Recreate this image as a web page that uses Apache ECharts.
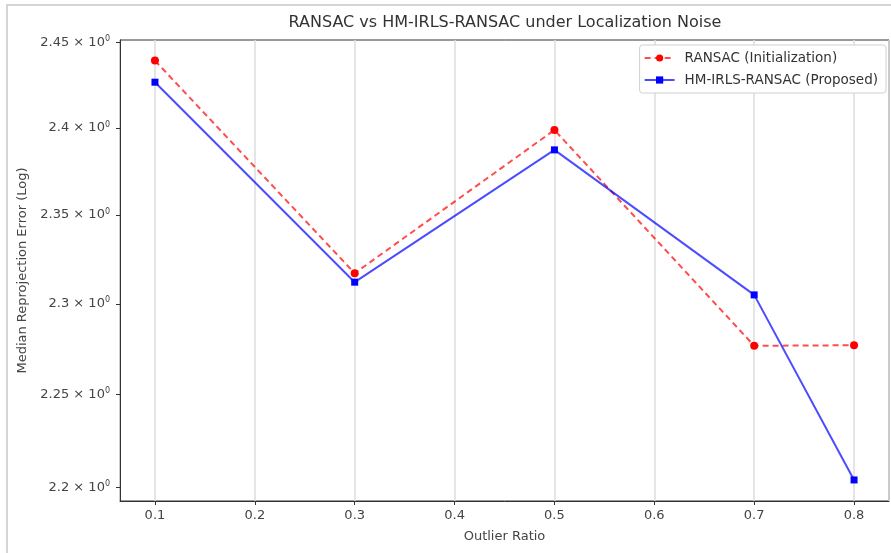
<!DOCTYPE html>
<html>
<head>
    <meta charset="utf-8">
    <title>RANSAC vs HM-IRLS-RANSAC</title>
    <script src="https://cdn.jsdelivr.net/npm/echarts@6.0.0/dist/echarts.min.js"></script>
    <style>
        html, body { margin: 0; padding: 0; background: #fff; }
    </style>
</head>
<body>
<div id="main" style="width: 891px; height: 553px;"></div>
<script type="text/javascript">
    // data
    var outlierRatio = [0.1, 0.3, 0.5, 0.7, 0.8];
    var ransacErr = [2.4394, 2.3171, 2.3988, 2.2768, 2.2771];
    var hmErr = [2.4267, 2.3121, 2.3873, 2.3050, 2.2041];
    var yTicks = [2.2, 2.25, 2.3, 2.35, 2.4, 2.45];
    var yMin = 2.1929, yMax = 2.4516;

    // log y axis: plot log10 of the values on a value axis
    function lg(v) { return Math.log10(v); }
    function pairs(xs, ys) {
        return xs.map(function (x, i) { return [x, lg(ys[i])]; });
    }

    var font = 'DejaVu Sans';
    var myChart = echarts.init(document.getElementById('main'));

    var option = {
        backgroundColor: '#fff',
        animation: false,
        textStyle: { fontFamily: font },
        title: {
            text: 'RANSAC vs HM-IRLS-RANSAC under Localization Noise',
            left: 505,
            textAlign: 'center',
            top: 15,
            padding: 0,
            textStyle: { fontFamily: font, fontSize: 16, fontWeight: 'normal', color: '#333' }
        },
        graphic: [{
            type: 'rect',
            shape: { x: 7, y: 5, width: 900, height: 600 },
            style: { fill: 'none', stroke: '#c8c8c8', lineWidth: 1.5 },
            silent: true
        }],
        legend: {
            orient: 'vertical',
            right: 5,
            top: 45,
            padding: [6, 8, 6, 4],
            itemGap: 8,
            itemWidth: 30,
            itemHeight: 9,
            backgroundColor: '#fff',
            borderColor: '#d0d0d0',
            borderWidth: 1,
            borderRadius: 3,
            textStyle: { fontFamily: font, fontSize: 13.5, color: '#333', padding: [0, 0, 0, 5] },
            data: ['RANSAC (Initialization)', 'HM-IRLS-RANSAC (Proposed)']
        },
        grid: {
            left: 120,
            right: 2,
            top: 40,
            bottom: 52,
            show: true,
            borderColor: '#333',
            borderWidth: 1
        },
        xAxis: {
            type: 'value',
            min: 0.065,
            max: 0.835,
            splitNumber: 8,
            name: 'Outlier Ratio',
            nameLocation: 'middle',
            nameGap: 29,
            nameTextStyle: { fontFamily: font, fontSize: 13, color: '#444' },
            axisLine: { show: true, onZero: false, lineStyle: { color: '#333' } },
            axisTick: { show: true, length: 4, lineStyle: { color: '#333' } },
            axisLabel: {
                showMinLabel: false,
                showMaxLabel: false,
                margin: 8,
                fontSize: 13,
                color: '#444',
                formatter: function (v) { return String(Math.round(v * 10) / 10); }
            },
            splitLine: { show: true, lineStyle: { color: '#dcdcdc', width: 1.5 } }
        },
        yAxis: {
            type: 'value',
            min: lg(yMin),
            max: lg(yMax),
            name: 'Median Reprojection Error (Log)',
            nameLocation: 'middle',
            nameGap: 88,
            nameTextStyle: { fontFamily: font, fontSize: 13, color: '#444' },
            axisLine: { show: true, onZero: false, lineStyle: { color: '#333' } },
            axisTick: { show: true, length: 4, customValues: yTicks.map(lg), lineStyle: { color: '#333' } },
            axisLabel: {
                customValues: yTicks.map(lg),
                margin: 10,
                color: '#444',
                formatter: function (v) {
                    var t = String(Math.round(Math.pow(10, v) * 100) / 100);
                    return '{m|' + t + ' \u00d7 10}{s|0}';
                },
                rich: {
                    m: { fontFamily: font, fontSize: 13, color: '#444' },
                    s: { fontFamily: font, fontSize: 8, color: '#444', verticalAlign: 'top', padding: [0, 0, 7, 0] }
                }
            },
            splitLine: { show: false }
        },
        series: [{
            name: 'RANSAC (Initialization)',
            type: 'line',
            data: pairs(outlierRatio, ransacErr),
            symbol: 'circle',
            symbolSize: 8,
            itemStyle: { color: '#ff0000' },
            lineStyle: { color: '#ff0000', width: 2, type: [6, 4], opacity: 0.7 },
            z: 3
        }, {
            name: 'HM-IRLS-RANSAC (Proposed)',
            type: 'line',
            data: pairs(outlierRatio, hmErr),
            symbol: 'rect',
            symbolSize: 7,
            itemStyle: { color: '#0000ff' },
            lineStyle: { color: '#0000ff', width: 2, opacity: 0.7 },
            z: 4
        }]
    };

    myChart.setOption(option);
</script>
</body>
</html>
